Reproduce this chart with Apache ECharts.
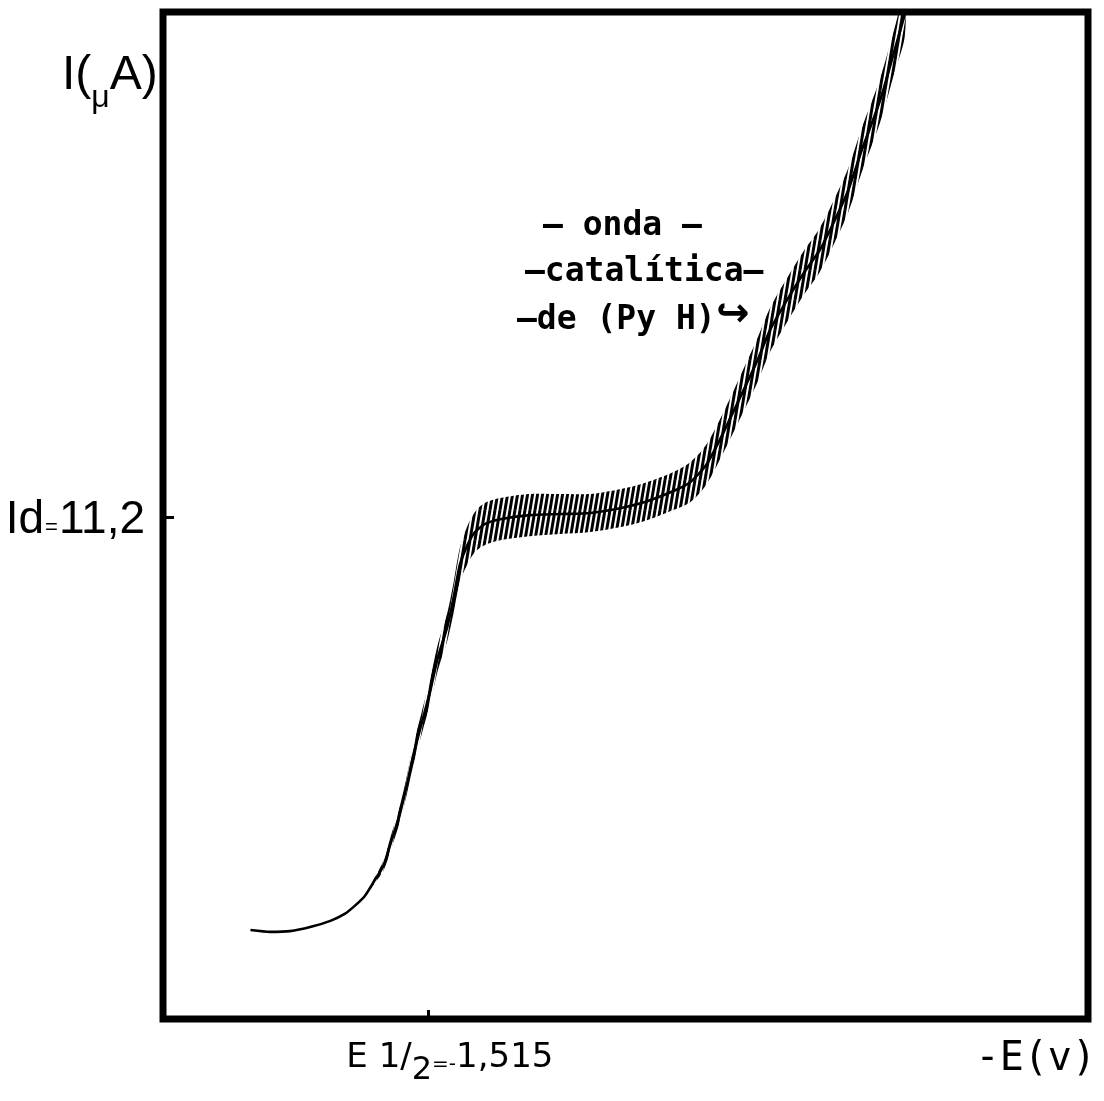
<!DOCTYPE html>
<html>
<head>
<meta charset="utf-8">
<script src="https://cdn.jsdelivr.net/npm/echarts@6/dist/echarts.min.js"></script>
<style>
html,body{margin:0;padding:0;background:#fff}
#chart{width:1104px;height:1101px}
</style>
</head>
<body>
<div id="chart"></div>
<script>
// -E (V) along the sweep
const potential = [1.304,1.327,1.351,1.375,1.399,1.416,1.428,1.440,1.452,1.462,1.472,1.482,1.490,1.497,1.508,1.518,1.527,1.538,1.545,1.553,1.562,1.571,1.583,1.601,1.636,1.672,1.708,1.743,1.773,1.807,1.827,1.845,1.862,1.886,1.906,1.922,1.942,1.961,1.981,1.999,2.015,2.031,2.053,2.070,2.082];
// mean current (µA)
const current = [-0.07,-0.12,-0.10,0.01,0.18,0.37,0.59,0.86,1.30,1.68,2.39,3.13,3.89,4.65,5.61,6.48,7.39,8.20,8.94,9.90,10.44,10.80,11.02,11.15,11.26,11.29,11.32,11.45,11.62,11.92,12.16,12.60,13.31,14.46,15.44,16.32,17.13,17.84,18.50,19.32,20.14,21.23,22.60,23.96,24.92];
// drop-oscillation amplitude, peak to trough (µA)
const oscillation = [0,0,0,0,0,0,0,0.05,0.16,0.27,0.38,0.44,0.49,0.55,0.60,0.66,0.71,0.76,0.82,0.93,1.04,1.09,1.15,1.15,1.15,1.09,1.04,1.04,1.04,1.04,1.09,1.09,1.09,1.15,1.20,1.20,1.20,1.20,1.20,1.20,1.20,1.20,1.20,1.20,1.20];

const halfWaveTicks = [1.515];
const diffusionTicks = [11.2];
const xRange = [1.2, 2.3];
const yRange = [-2.5, 25];

// hatch texture used to render the oscillating band
function makeHatch(){
  const w = 5, h = 30;
  const c = document.createElement('canvas');
  c.width = w; c.height = h;
  const g = c.getContext('2d');
  g.strokeStyle = '#000';
  g.lineWidth = 3;
  g.lineCap = 'butt';
  [-w, 0, w].forEach(function(dx){
    g.beginPath();
    g.moveTo(dx, h);
    g.lineTo(dx + w, 0);
    g.stroke();
  });
  return c;
}
const hatch = {image: makeHatch(), repeat: 'repeat'};

const lineData = potential.map(function(e, i){ return [e, current[i]]; });

const chart = echarts.init(document.getElementById('chart'), null, {renderer: 'canvas'});

const option = {
  animation: false,
  backgroundColor: '#fff',
  grid: {
    left: 163, right: 16, top: 12, bottom: 82,
    containLabel: false, outerBoundsMode: 'none',
    show: true, borderColor: '#000', borderWidth: 7, backgroundColor: 'transparent'
  },
  xAxis: {
    type: 'value', min: xRange[0], max: xRange[1],
    axisLine: {show: false, onZero: false},
    splitLine: {show: false},
    axisTick: {show: true, inside: true, length: 9, customValues: halfWaveTicks, lineStyle: {color: '#000', width: 3}},
    axisLabel: {
      show: true, customValues: halfWaveTicks, margin: 22,
      padding: [0, 0, 0, 44],
      formatter: function(){ return '{t|E 1/}{sub|2}{s|=-}{t|1,515}'; },
      rich: {
        t: {fontFamily: 'DejaVu Sans', fontSize: 34, color: '#000', verticalAlign: 'top', lineHeight: 40},
        sub: {fontFamily: 'DejaVu Sans', fontSize: 32, color: '#000', verticalAlign: 'bottom', lineHeight: 46},
        s: {fontFamily: 'DejaVu Sans', fontSize: 20, color: '#000', verticalAlign: 'top', lineHeight: 40, padding: [14, 0, 0, 0]}
      }
    }
  },
  yAxis: {
    type: 'value', min: yRange[0], max: yRange[1],
    axisLine: {show: false, onZero: false},
    splitLine: {show: false},
    axisTick: {show: true, inside: true, length: 11, customValues: diffusionTicks, lineStyle: {color: '#000', width: 3}},
    axisLabel: {
      show: true, customValues: diffusionTicks, margin: 18,
      formatter: function(){ return '{t|Id}{s|=}{t|11,2}'; },
      rich: {
        t: {fontFamily: 'Liberation Sans', fontSize: 46, color: '#000', verticalAlign: 'bottom', lineHeight: 52},
        s: {fontFamily: 'Liberation Sans', fontSize: 22, color: '#000', verticalAlign: 'bottom', lineHeight: 52, padding: [0, 1, 4, 1]}
      }
    }
  },
  graphic: [
    {type: 'text', left: 62, top: 52, z: 10,
     style: {text: '{a|I(}{m|μ}{a|A)}', rich: {
       a: {fontFamily: 'Liberation Sans', fontSize: 48, fill: '#000', verticalAlign: 'top', lineHeight: 54},
       m: {fontFamily: 'Liberation Sans', fontSize: 32, fill: '#000', verticalAlign: 'bottom', lineHeight: 62}
     }}},
    {type: 'text', x: 1096, y: 1060, z: 10,
     style: {text: '-E(v)', fontFamily: 'DejaVu Sans Mono', fontSize: 40, fill: '#000', align: 'right', verticalAlign: 'middle'}},
    {type: 'text', x: 543, y: 226, z: 10,
     style: {text: '— onda –', fontFamily: 'DejaVu Sans Mono', fontWeight: 'bold', fontSize: 33, fill: '#000', align: 'left', verticalAlign: 'middle'}},
    {type: 'text', x: 525, y: 272, z: 10,
     style: {text: '–catalítica–', fontFamily: 'DejaVu Sans Mono', fontWeight: 'bold', fontSize: 33, fill: '#000', align: 'left', verticalAlign: 'middle'}},
    {type: 'text', x: 517, y: 320, z: 10,
     style: {text: '–de (Py H)', fontFamily: 'DejaVu Sans Mono', fontWeight: 'bold', fontSize: 33, fill: '#000', align: 'left', verticalAlign: 'middle'}},
    {type: 'text', x: 716, y: 316, z: 10,
     style: {text: '↪', fontFamily: 'DejaVu Sans', fontWeight: 'bold', fontSize: 40, fill: '#000', align: 'left', verticalAlign: 'middle'}}
  ],
  series: [
    {
      type: 'line', data: lineData, smooth: 0.2, showSymbol: false, clip: true,
      lineStyle: {color: '#000', width: 2.6}, z: 3
    },
    {
      type: 'custom', clip: true, z: 4,
      data: [[potential[0], current[0]]],
      encode: {x: 0, y: 1},
      renderItem: function(params, api){
        if (params.dataIndex !== 0) return null;
        const up = [], lo = [];
        for (let i = 0; i < potential.length; i++){
          if (oscillation[i] === 0 && !(oscillation[i + 1] > 0)) continue;
          up.push(api.coord([potential[i], current[i] + oscillation[i] / 2]));
          lo.push(api.coord([potential[i], current[i] - oscillation[i] / 2]));
        }
        return {
          type: 'polygon',
          shape: {points: up.concat(lo.reverse()), smooth: 0.3},
          style: {fill: hatch, stroke: null}
        };
      }
    }
  ]
};
chart.setOption(option);
</script>
</body>
</html>
